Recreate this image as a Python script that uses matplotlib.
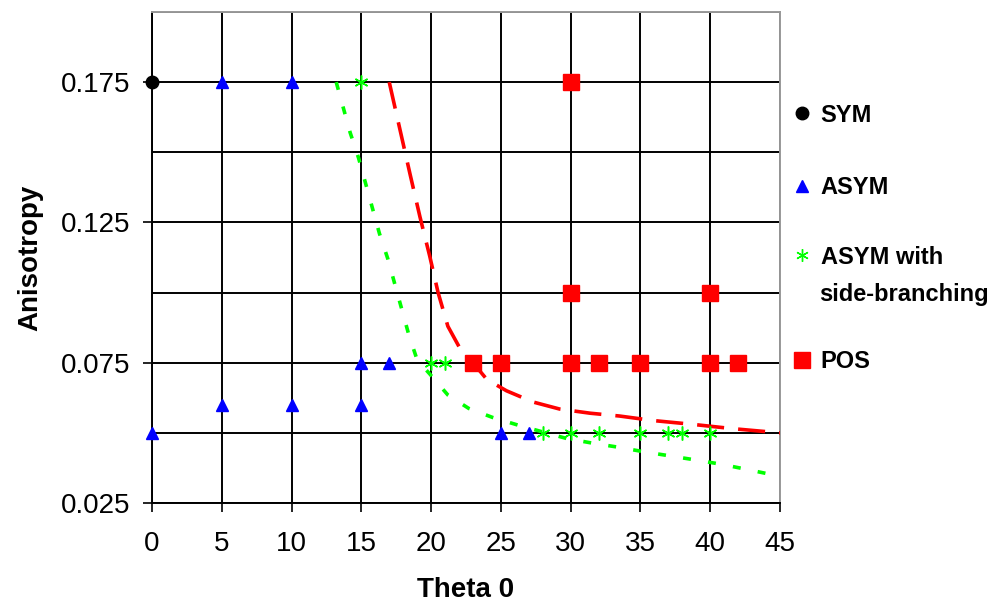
import matplotlib
matplotlib.use("Agg")
import matplotlib.pyplot as plt
from matplotlib.lines import Line2D

plt.rcParams['font.family'] = ['Liberation Sans', 'DejaVu Sans']

# point data (Theta 0, Anisotropy)
sym_x = [0]
sym_y = [0.175]
asym_x = [5, 10, 0, 5, 10, 15, 15, 17, 25, 27]
asym_y = [0.175, 0.175, 0.05, 0.06, 0.06, 0.06, 0.075, 0.075, 0.05, 0.05]
side_x = [15, 20, 21, 28, 30, 32, 35, 37, 38, 40]
side_y = [0.175, 0.075, 0.075, 0.05, 0.05, 0.05, 0.05, 0.05, 0.05, 0.05]
pos_x = [30, 30, 40, 23, 25, 30, 32, 35, 40, 42]
pos_y = [0.175, 0.1, 0.1, 0.075, 0.075, 0.075, 0.075, 0.075, 0.075, 0.075]

# boundary curves
red_x = [17.0, 18.5, 19.2, 19.9, 20.5, 21.2, 22.3, 23.0, 24.0, 25.4, 27.3,
         29.2, 31.4, 33.5, 35.9, 38.8, 41.6, 45.0]
red_y = [0.175, 0.142, 0.127, 0.113, 0.100, 0.088, 0.078, 0.075, 0.069,
         0.065, 0.061, 0.0585, 0.057, 0.056, 0.0544, 0.053, 0.0515, 0.050]
green_x = [13.2, 13.7, 14.2, 14.8, 15.3, 15.8, 16.3, 16.9, 17.4, 17.9, 18.4,
           19.0, 19.9, 21.2, 22.7, 24.4, 26.2, 29.7, 31.6, 33.4, 35.2, 37.1,
           39.0, 40.8, 42.6, 45.0]
green_y = [0.175, 0.166, 0.157, 0.148, 0.139, 0.130, 0.121, 0.112, 0.103,
           0.094, 0.085, 0.076, 0.071, 0.0635, 0.0587, 0.0555, 0.0528, 0.048,
           0.0463, 0.0449, 0.0433, 0.0418, 0.0403, 0.0388, 0.037, 0.0345]

x_ticks = [0, 5, 10, 15, 20, 25, 30, 35, 40, 45]
y_major = [0.025, 0.075, 0.125, 0.175]
y_minor = [0.05, 0.1, 0.15, 0.2]
legend_labels = ['SYM', 'ASYM', 'ASYM with', 'POS']

fig = plt.figure(figsize=(9.91, 6.07), dpi=100)
ax = fig.add_axes([152 / 991, 1 - 503 / 607, 628 / 991, 491 / 607])

ax.plot(red_x, red_y, color='#ff0000', lw=2.6, dashes=(7.5, 3.9), zorder=3)
ax.plot(green_x, green_y, color='#00ff00', lw=2.6, dashes=(2.2, 4.8), zorder=3)

star = (6, 2, 0)
ax.plot(sym_x, sym_y, 'o', color='black', ms=9, ls='none', zorder=5, clip_on=False)
ax.plot(asym_x, asym_y, '^', color='#0000ff', ms=9, ls='none', zorder=5, clip_on=False)
ax.plot(side_x, side_y, ls='none', marker=star, color='#00ff00', ms=10, mew=1.1, zorder=5)
ax.plot(pos_x, pos_y, 's', color='#ff0000', ms=11.5, ls='none', zorder=5)

ax.set_xlim(0, 45)
ax.set_ylim(0.025, 0.2)
ax.set_xticks(x_ticks)
ax.set_yticks(y_major)
ax.set_yticks(y_minor, minor=True)
ax.set_yticklabels(['0.025', '0.075', '0.125', '0.175'])
ax.tick_params(axis='both', which='major', direction='out', length=6.5, width=1.2,
               labelsize=20, color='black')
ax.tick_params(axis='x', pad=14)
ax.tick_params(axis='y', pad=9)
ax.tick_params(axis='y', which='minor', length=0)
ax.grid(True, which='both', color='black', lw=1.4)
ax.set_axisbelow(True)

for s in ['left', 'bottom']:
    ax.spines[s].set_color('black')
    ax.spines[s].set_linewidth(1.4)
for s in ['top', 'right']:
    ax.spines[s].set_color('#999999')
    ax.spines[s].set_linewidth(1.4)

ax.set_xlabel('Theta 0', fontsize=20, fontweight='bold', labelpad=14)
ax.set_ylabel('Anisotropy', fontsize=20, fontweight='bold', labelpad=13)

# legend, one entry at a time so the rows can sit where they do in the original
handles = [
    Line2D([], [], ls='none', marker='o', color='black', ms=9),
    Line2D([], [], ls='none', marker='^', color='#0000ff', ms=9),
    Line2D([], [], ls='none', marker=star, color='#00ff00', ms=9, mew=1),
    Line2D([], [], ls='none', marker='s', color='#ff0000', ms=11.5),
]
row_y = [115, 188, 257, 362]
for h, lab, y in zip(handles, legend_labels, row_y):
    leg = fig.legend([h], [lab], loc='center left',
                     bbox_to_anchor=(790 / 991, 1 - y / 607), frameon=False,
                     prop={'size': 17, 'weight': 'bold'}, handlelength=1.0,
                     handletextpad=0.3, borderpad=0, borderaxespad=0)
fig.text(819 / 991, 1 - 295 / 607, 'side-branching', fontsize=17,
         fontweight='bold', va='center', ha='left')

fig.savefig('out.png', dpi=100)
